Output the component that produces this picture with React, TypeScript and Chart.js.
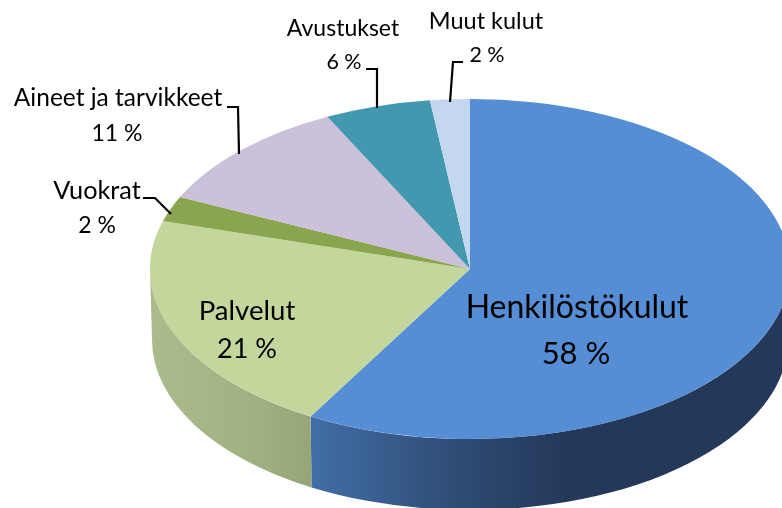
import React, { useEffect, useRef } from "react";
import { Chart, registerables } from "chart.js";

Chart.register(...registerables);

const categories = ["Henkilöstökulut", "Palvelut", "Vuokrat", "Aineet ja tarvikkeet", "Avustukset", "Muut kulut"];
const values = [58.3, 21.25, 2.4, 10.7, 5.35, 2.0];
const percentLabels = ["58 %", "21 %", "2 %", "11 %", "6 %", "2 %"];
const sliceColors = ["#558ED5", "#C3D69B", "#89A54E", "#CCC1DA", "#4198AF", "#C3D7EE"];
const wallStops: (string[] | null)[] = [
  ["#416EA6", "#2F4C75", "#24395A", "#24395A"],
  ["#ABBC8C", "#A6B686", "#A1B080", "#96A576"],
  null, null, null, null,
];
const blueStopPositions = [0, 0.3, 0.53, 1];
const greenStopPositions = [0, 0.33, 0.67, 1];

const CX = 470, CY = 269, RX = 320, RY = 170, DEPTH = 71, BOTTOM_RX = 318;
const labelCenterX = [577, 247, 97, 118, 343, 486];
const labelLine1Y = [318, 320, 199, 106, 36, 29];
const labelLine2Y = [364, 358, 233, 141, 69, 62];
const labelLine2X = [576, 247, 97, 117, 344, 487];
const labelSize = [32, 27.6, 25.3, 24.5, 23, 23.5];
const percentSize = [31, 27, 23, 23, 21.5, 21.5];
const leaders: ([number, number][] | null)[] = [
  null, null,
  [[143, 198], [155, 198], [171, 214]],
  [[227, 107], [238, 107], [239, 154]],
  [[366, 69], [377, 69], [377, 108]],
  [[463, 62], [453, 62], [450, 102]],
];

const FONT = "Lato, Carlito, sans-serif";

const pie3d = {
  id: "pie3d",
  beforeDatasetDraw(chart: any) {
    const ctx = chart.ctx;
    const arcs = chart.getDatasetMeta(0).data;
    ctx.save();
    arcs.forEach((arc: any, i: number) => {
      const stops = wallStops[i];
      if (!stops) return;
      const a0 = Math.max(arc.startAngle, 0);
      const a1 = Math.min(arc.endAngle, Math.PI);
      if (a1 <= a0) return;
      const xs: number[] = [];
      for (let k = 0; k <= 32; k++) xs.push(CX + RX * Math.cos(a0 + ((a1 - a0) * k) / 32));
      const minX = Math.min(...xs), maxX = Math.max(...xs);
      const g = ctx.createLinearGradient(minX, 0, maxX, 0);
      const pos = i === 0 ? blueStopPositions : greenStopPositions;
      stops.forEach((c: string, k: number) => g.addColorStop(pos[k], c));
      ctx.beginPath();
      ctx.ellipse(CX, CY, RX, RY, 0, a0, a1, false);
      ctx.ellipse(CX, CY + DEPTH, BOTTOM_RX, RY, 0, a1, a0, true);
      ctx.closePath();
      ctx.fillStyle = g;
      ctx.fill();
    });
    ctx.restore();
    const first = arcs[0];
    const r = first.outerRadius;
    ctx.save();
    ctx.translate(CX, CY);
    ctx.scale(RX / r, RY / r);
    ctx.translate(-first.x, -first.y);
  },
  afterDatasetDraw(chart: any) {
    chart.ctx.restore();
  },
  afterDraw(chart: any) {
    const ctx = chart.ctx;
    ctx.save();
    ctx.strokeStyle = "#000000";
    ctx.lineWidth = 2.2;
    leaders.forEach((pts) => {
      if (!pts) return;
      ctx.beginPath();
      pts.forEach(([x, y], k) => (k ? ctx.lineTo(x, y) : ctx.moveTo(x, y)));
      ctx.stroke();
    });
    ctx.fillStyle = "#000000";
    ctx.textAlign = "center";
    ctx.textBaseline = "alphabetic";
    categories.forEach((name, i) => {
      ctx.font = `${labelSize[i]}px ${FONT}`;
      ctx.fillText(name, labelCenterX[i], labelLine1Y[i]);
      ctx.font = `${percentSize[i]}px ${FONT}`;
      ctx.fillText(percentLabels[i], labelLine2X[i], labelLine2Y[i]);
    });
    ctx.restore();
  },
};

export default function App() {
  const ref = useRef<HTMLCanvasElement>(null);
  useEffect(() => {
    document.body.style.margin = "0";
    const chart = new Chart(ref.current as HTMLCanvasElement, {
      type: "pie",
      data: {
        labels: categories,
        datasets: [{ data: values, backgroundColor: sliceColors, borderWidth: 0, clip: false } as any],
      },
      options: {
        animation: false,
        responsive: false,
        layout: { padding: 0 },
        plugins: { legend: { display: false }, tooltip: { enabled: false } },
      },
      plugins: [pie3d],
    } as any);
    return () => chart.destroy();
  }, []);
  return <canvas ref={ref} width={782} height={508} style={{ display: "block" }} />;
}
